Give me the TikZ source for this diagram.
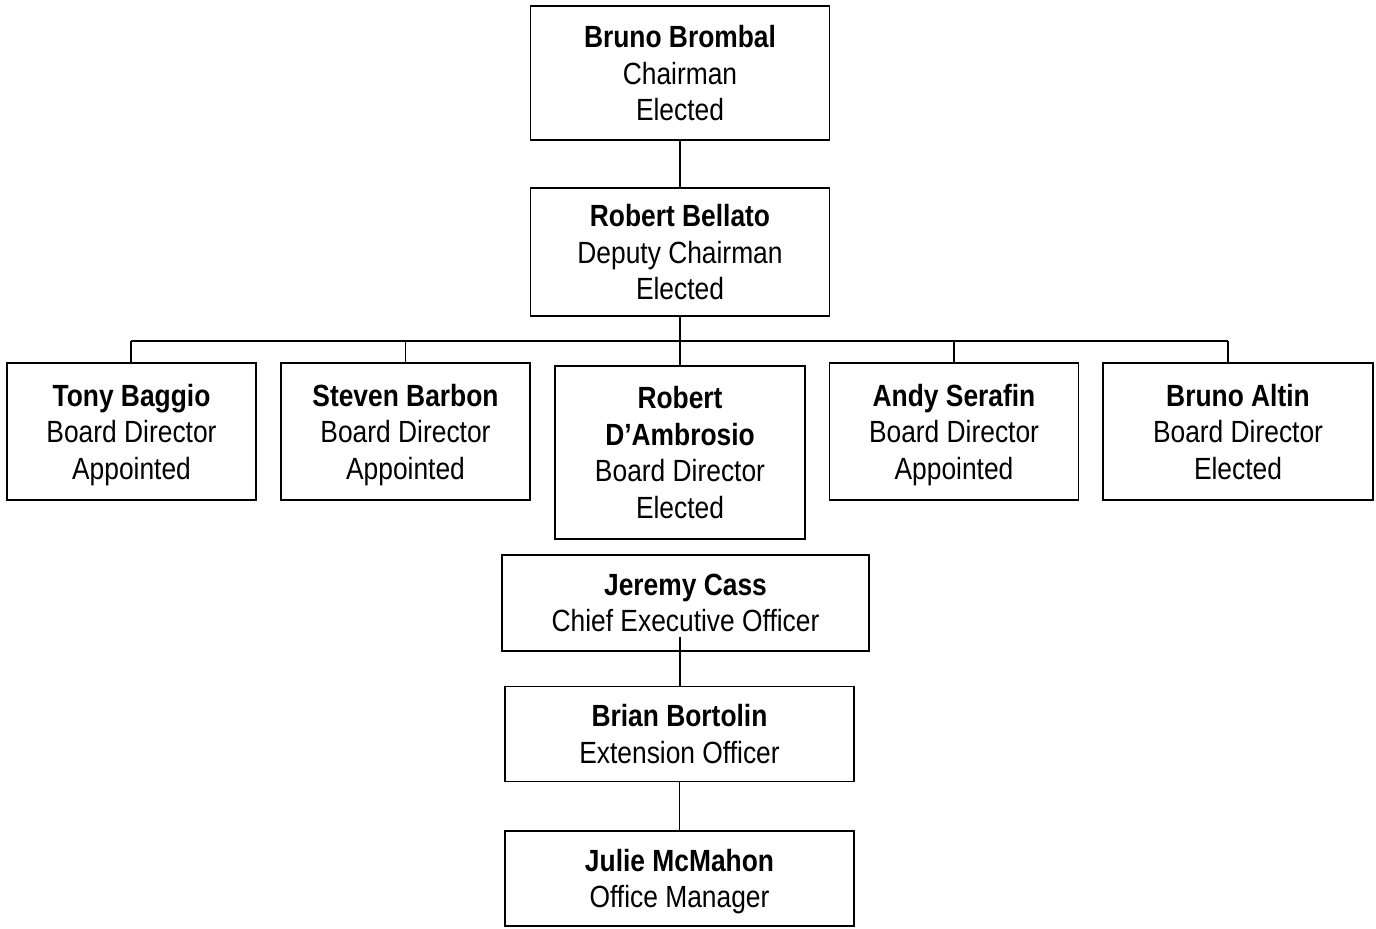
\documentclass[tikz,border=0pt]{standalone}
\usepackage{fontspec}
\setmainfont[FakeStretch=0.86]{Liberation Sans}
\usetikzlibrary{%
	calc,%
	positioning%
}

\tikzset{
	person/.style={draw, line width=1.4pt, fill=white, inner sep=0pt, align=center,
		font=\fontsize{23}{27.4}\selectfont, text depth=0pt},
	link/.style={line width=1.4pt}
}

\begin{document}
\begin{tikzpicture}[x=0.75pt, y=-0.75pt]
		\useasboundingbox (0,0) rectangle (1376,928);
		% top of the board
		\node [person, minimum width=299*0.75pt, minimum height=134*0.75pt] (brombal) at (680,73) {\textbf{Bruno Brombal}\\Chairman\\Elected};
		\node [person, minimum width=299*0.75pt, minimum height=128*0.75pt] (bellato) at (680,252) {\textbf{Robert Bellato}\\Deputy Chairman\\Elected};
		% directors
		\node [person, minimum width=249*0.75pt, minimum height=137*0.75pt] (baggio) at (131.5,431.5) {\textbf{Tony Baggio}\\Board Director\\Appointed};
		\node [person, minimum width=249*0.75pt, minimum height=137*0.75pt] (barbon) at (405.5,431.5) {\textbf{Steven Barbon}\\Board Director\\Appointed};
		\node [person, minimum width=250*0.75pt, minimum height=173*0.75pt] (dambrosio) at (680,452.5) {\textbf{Robert}\\\textbf{D'Ambrosio}\\Board Director\\Elected};
		\node [person, minimum width=249*0.75pt, minimum height=137*0.75pt] (serafin) at (954,431.5) {\textbf{Andy Serafin}\\Board Director\\Appointed};
		\node [person, minimum width=270*0.75pt, minimum height=137*0.75pt] (altin) at (1238,431.5) {\textbf{Bruno Altin}\\Board Director\\Elected};
		% staff
		\node [person, minimum width=367*0.75pt, minimum height=96*0.75pt] (cass) at (685.5,603) {\textbf{Jeremy Cass}\\Chief Executive Officer};
		\node [person, minimum width=349*0.75pt, minimum height=95*0.75pt] (bortolin) at (679.5,734) {\textbf{Brian Bortolin}\\Extension Officer};
		\node [person, minimum width=349*0.75pt, minimum height=95*0.75pt] (mcmahon) at (679.5,878.5) {\textbf{Julie McMahon}\\Office Manager};

		\coordinate (busl) at (131,341);
		\coordinate (busr) at (1228,341);
		\coordinate (ceo) at (680,637);

		\draw [link] (brombal) -- (bellato);
		\draw [link] (bellato.south) -- (dambrosio.north);
		\draw [link] (busl) -- (busr);
		\draw [link] (busl) -- (busl |- baggio.north);
		\draw [link] (busl -| barbon) -- (barbon.north);
		\draw [link] (busl -| serafin) -- (serafin.north);
		\draw [link] (busr) -- (busr |- altin.north);
		\draw [link] (ceo) -- (ceo |- bortolin.north);
		\draw [link] (bortolin) -- (mcmahon);
	\end{tikzpicture}
\end{document}
